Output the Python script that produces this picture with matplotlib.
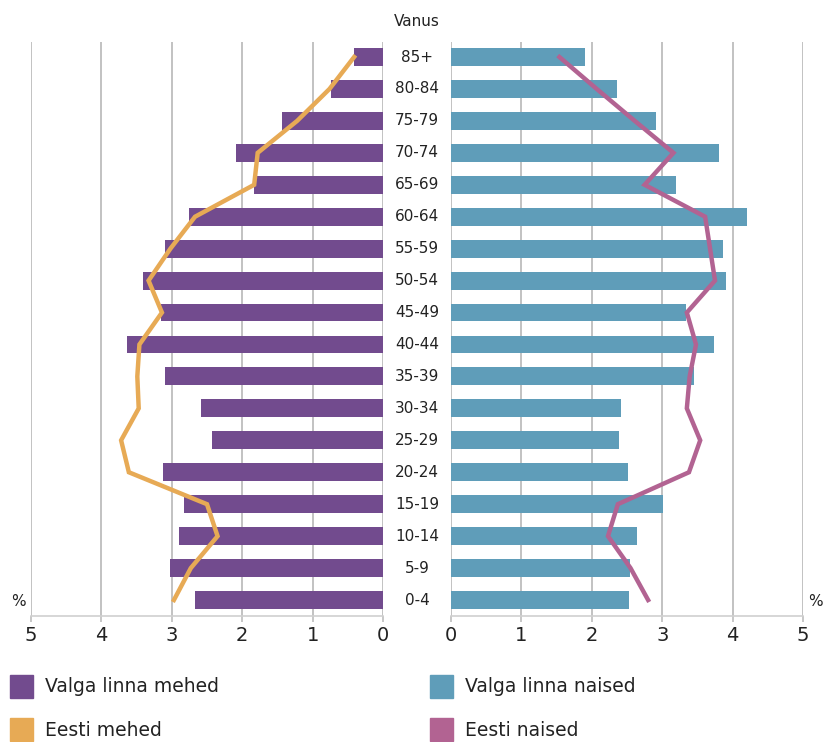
import matplotlib
matplotlib.use("Agg")
import matplotlib.pyplot as plt
from matplotlib.patches import Rectangle
import numpy as np

plt.rcParams['font.family'] = ['DejaVu Sans']

age_groups = ["0-4", "5-9", "10-14", "15-19", "20-24", "25-29", "30-34", "35-39",
              "40-44", "45-49", "50-54", "55-59", "60-64", "65-69", "70-74",
              "75-79", "80-84", "85+"]
valga_mehed = [2.67, 3.02, 2.90, 2.82, 3.12, 2.43, 2.58, 3.10, 3.63, 3.16,
               3.41, 3.09, 2.75, 1.83, 2.09, 1.43, 0.74, 0.41]
eesti_mehed = [2.97, 2.73, 2.35, 2.50, 3.61, 3.72, 3.47, 3.49, 3.46, 3.14,
               3.33, 3.02, 2.67, 1.83, 1.78, 1.22, 0.76, 0.41]
valga_naised = [2.53, 2.54, 2.64, 3.01, 2.52, 2.39, 2.41, 3.45, 3.74, 3.34,
                3.90, 3.87, 4.21, 3.19, 3.81, 2.91, 2.36, 1.90]
eesti_naised = [2.80, 2.55, 2.23, 2.37, 3.38, 3.54, 3.35, 3.39, 3.48, 3.35,
                3.75, 3.68, 3.61, 2.75, 3.16, 2.61, 2.07, 1.54]
xticks = [0, 1, 2, 3, 4, 5]

c_purple = "#724b8e"
c_blue = "#5f9db9"
c_orange = "#e7aa55"
c_pink = "#b26392"
c_grid = "#bdbdbd"

W, H = 823, 742
fig = plt.figure(figsize=(W / 100, H / 100), dpi=100)

def fx(px):
    return px / W

def fy(py):
    return 1 - py / H

ax_l = fig.add_axes([fx(31), fy(616), fx(352), (616 - 42) / H])
ax_r = fig.add_axes([fx(451), fy(616), fx(352), (616 - 42) / H])

y = np.arange(len(age_groups))

for ax, bars, line, bc, lc in [(ax_l, valga_mehed, eesti_mehed, c_purple, c_orange),
                               (ax_r, valga_naised, eesti_naised, c_blue, c_pink)]:
    for xt in xticks:
        ax.axvline(xt, color=c_grid, lw=1.3, zorder=0)
    ax.barh(y, bars, height=0.56, color=bc, zorder=2)
    ax.plot(line, y, color=lc, lw=3.2, zorder=3, solid_joinstyle='miter')
    ax.set_xlim(0, 5)
    ax.set_ylim(-0.5, 17.47)
    ax.set_xticks(xticks)
    ax.set_xticklabels([str(t) for t in xticks], fontsize=14, color="#222222")
    ax.set_yticks([])
    for s in ["top", "left", "right"]:
        ax.spines[s].set_visible(False)
    ax.spines["bottom"].set_color("#d0d0d0")
    ax.spines["bottom"].set_linewidth(1.2)
    ax.tick_params(axis='x', length=4, width=1.2, color=c_grid, pad=3)

ax_l.invert_xaxis()

# category labels in the middle
for i, lab in enumerate(age_groups):
    yy = ax_l.transData.transform((0, i))[1]
    fig.text(fx(417), yy / fig.dpi / fig.get_figheight(), lab, ha="center", va="center",
             fontsize=11, color="#222222")

fig.text(fx(417), fy(22), "Vanus", ha="center", va="center", fontsize=11, color="#222222")
fig.text(fx(18), fy(602), "%", ha="center", va="center", fontsize=11, color="#222222")
fig.text(fx(815), fy(602), "%", ha="center", va="center", fontsize=11, color="#222222")

# legend
legend_items = [(10, 675, c_purple, "Valga linna mehed"),
                (430, 675, c_blue, "Valga linna naised"),
                (10, 718, c_orange, "Eesti mehed"),
                (430, 718, c_pink, "Eesti naised")]
for px, py, col, lab in legend_items:
    fig.patches.append(Rectangle((fx(px), fy(py + 23)), fx(23), 23 / H,
                                 transform=fig.transFigure, color=col))
    fig.text(fx(px + 35), fy(py + 12), lab, ha="left", va="center",
             fontsize=13.5, color="#222222")

fig.savefig("out.png", dpi=100)
